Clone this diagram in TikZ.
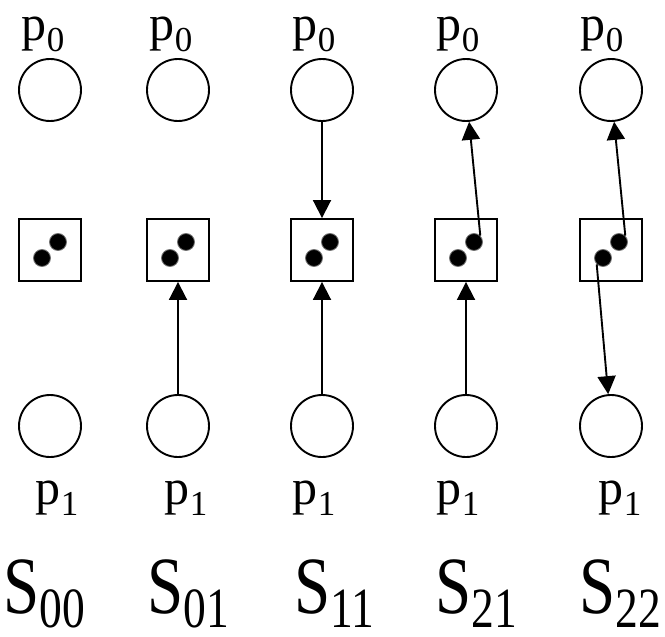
\documentclass[tikz,border=0pt]{standalone}
\usepackage{fontspec}
\setmainfont{Liberation Serif}
\usetikzlibrary{arrows.meta}
\newcommand{\plbl}[1]{p\raisebox{-.22em}{\scalebox{.7}{#1}}}
\newcommand{\slbl}[1]{\scalebox{1}[1.25]{S\raisebox{-.18em}{\scalebox{.7}{#1}}}}

\begin{document}
\begin{tikzpicture}[
        x=1pt,y=-1pt,
        every node/.style={inner sep=0pt},
        place/.style={draw,circle,line width=1.9pt,minimum size=62pt},
        trans/.style={draw,rectangle,line width=1.9pt,minimum size=62pt},
        tok/.style={circle,fill=black,draw=black!55,line width=0.8pt,minimum size=17pt},
        lbl/.style={anchor=base,font=\rmfamily\fontsize{50}{60}\selectfont},
        stlabel/.style={anchor=base,font=\rmfamily\fontsize{65}{78}\selectfont},
        flow/.style={-{Triangle[length=18pt,width=18pt]},line width=1.9pt}
    ]
        \useasboundingbox (0,0) rectangle (665,637);
        % one column per state: places, transition with its two tokens, labels
        \foreach \n/\x/\pa/\pb/\sx/\idx in {1/50/43/57/44/00,2/178/171/186/188/01,
            3/322/314/314/334/11,4/466/458/458/476/21,5/611/602/620/620/22} {
            \node[place] (top\n) at (\x,90) {};
            \node[trans] (sq\n) at (\x,250) {};
            \node[place] (bot\n) at (\x,426) {};
            \node[tok] (ta\n) at (\x-8,258) {};
            \node[tok] (tb\n) at (\x+8,242) {};
            \node[lbl] (pa\n) at (\pa,40) {\plbl{0}};
            \node[lbl] (pb\n) at (\pb,504) {\plbl{1}};
            \node[stlabel] (s\n) at (\sx,613) {\slbl{\idx}};
        }
        \draw[flow] (bot2) -- (sq2);
        \draw[flow] (top3) -- (sq3);
        \draw[flow] (bot3) -- (sq3);
        \draw[flow] (bot4) -- (sq4);
        \draw[flow] (tb4.north east) -- (top4);
        \draw[flow] (tb5.north east) -- (top5);
        \draw[flow] (ta5.south west) -- (bot5);
    \end{tikzpicture}
\end{document}
